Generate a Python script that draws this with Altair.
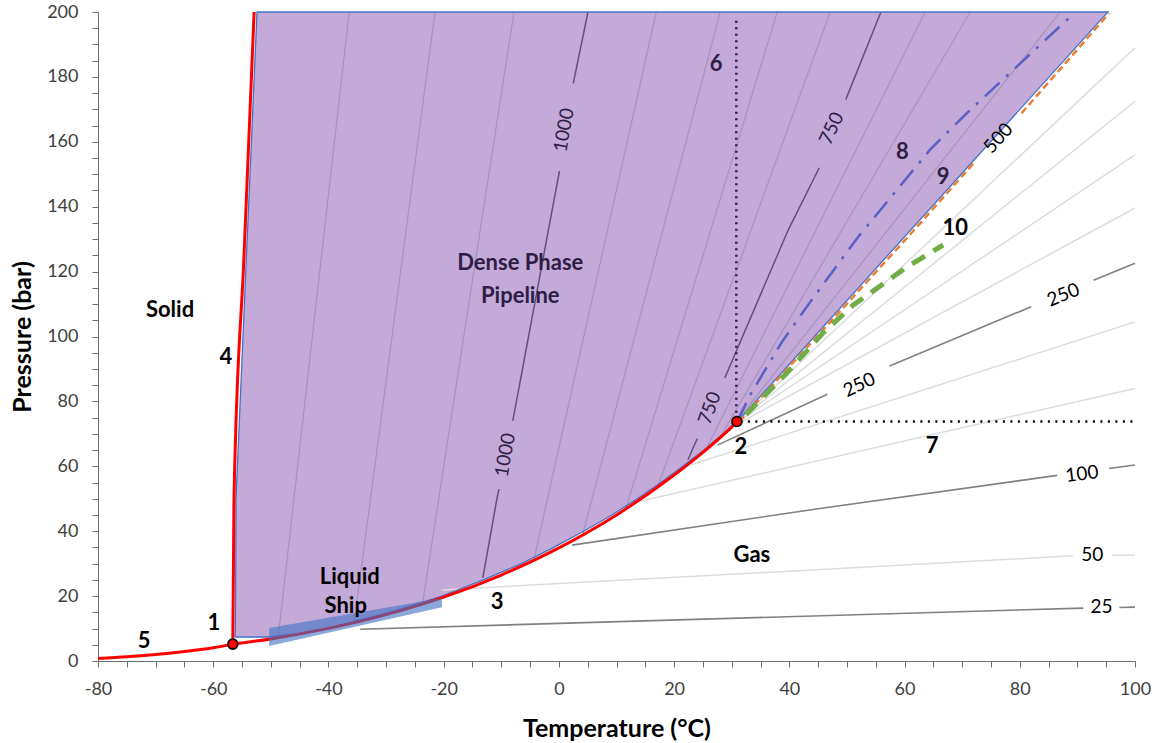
import altair as alt
import pandas as pd

# ---------------- data (temperature °C, pressure bar) ----------------
sub_T = [-80, -75, -70, -65, -60, -56.6]
sub_P = [0.8, 1.3, 2.0, 2.9, 4.1, 5.2]
melt_T = [-56.6, -56.4, -54.65, -52.9]
melt_P = [5.2, 49.6, 125, 200]
vap_T = [-56.6, -50, -40, -30, -20, -10, 0, 10, 20, 25, 30, 31]
vap_P = [5.2, 6.8, 10.05, 14.3, 19.7, 26.5, 34.85, 45.0, 57.3, 64.3, 72.1, 73.8]

region_P = [7.4, 8.5, 10, 15, 20, 25, 30, 35, 40, 45, 50, 55, 60, 65, 70, 73.8, 200]
region_left = [-56.2, -56.18, -56.16, -56.14, -56.12, -56.1, -56.08, -56.07, -56.06, -56.05,
               -56.05, -55.93, -55.8, -55.68, -55.56, -55.47, -52.4]
region_right = [-50.2, -45.3, -40.5, -29.4, -20.3, -13.1, -6.5, -0.9, 4.3, 9.2,
                13.6, 17.7, 21.5, 25.2, 28.5, 31.0, 95.3]

ship_T = [-50.3, -20.3]
ship_top = [10.2, 19.4]
ship_bottom = [4.6, 16.6]

points_T = [-56.6, 30.9]
points_P = [5.2, 73.8]

# isochores (kg/m3); None marks a break for a label
iso_lines = [
    # liquid region, light
    ("1150", "liq_light", [-48.7, -36.4], [7.6, 200]),
    ("1100", "liq_light", [-35.5, -21.5], [12.5, 200]),
    ("1050", "liq_light", [-23.6, -7.8], [18.5, 200]),
    ("950", "liq_light", [-4.3, 16.9], [31.5, 200]),
    ("900", "liq_light", [4.2, 28.0], [39.5, 200]),
    ("850", "liq_light", [11.6, 37.9], [46.8, 200]),
    ("800", "liq_light", [17.2, 47.1], [54.0, 200]),
    ("700", "liq_light", [25.8, 63.6], [66.2, 200]),
    ("650", "liq_light", [28.4, 71.4], [70.3, 200]),
    ("550", "liq_light", [30.6, 87.0], [73.3, 200]),
    # liquid region, labelled
    ("1000", "liq_dark", [5.05, 2.5, None, 0.1, -8.0, None, -10.4, -10.8, -13.2],
     [200, 178, None, 151, 74, None, 53, 49.6, 25.6]),
    ("750", "liq_dark", [55.9, 49.8, None, 45.2, 39.8, 28.8, None, 24.0, 22.4],
     [200, 173, None, 152, 132.8, 87.2, None, 68.5, 62]),
    # gas / supercritical, light
    ("50", "gas_light", [-20.3, 89.2, None, 96.0, 100], [21.9, 32.4, None, 32.6, 32.7]),
    ("150", "gas_light", [13.5, 100], [49, 84]),
    ("200", "gas_light", [23.0, 100], [60.5, 104.5]),
    ("300", "gas_light", [29.8, 100], [71.9, 139.6]),
    ("350", "gas_light", [30.5, 100], [73.0, 156]),
    ("400", "gas_light", [30.9, 100], [73.6, 172.5]),
    ("450", "gas_light", [31.0, 100], [73.8, 189]),
    # gas, labelled dark
    ("25", "gas_dark", [-34.5, 91.0, None, 97.3, 100], [9.8, 16.3, None, 16.5, 16.6]),
    ("100", "gas_dark", [2.3, 45.3, 86.5, None, 95.5, 100], [35.7, 47.0, 57.2, None, 59.3, 60.4]),
    ("250", "gas_dark", [27.6, 46.6, None, 57.4, 82.0, None, 92.8, 100],
     [66.6, 82.2, None, 90.9, 109.2, None, 117.3, 122.6]),
    # special lines
    ("9", "orange", [31.3, 60.6, 72.3, None, 80.3, 95.5], [73.8, 130.7, 154.0, None, 168.8, 199.6]),
    ("8", "dashdot", [31.0, 33.2, 38.7, 43.6, 52.0, 64.4, 70.5, 89.1],
     [74.0, 82.0, 98.3, 110.6, 130.8, 157.5, 168.3, 199.1]),
    ("10", "green", [32.5, 39.6, 45.8, 51.1, 60.4, 66.7], [76.0, 88.8, 101.0, 109.7, 121.4, 128.2]),
    ("6", "dot6", [30.8, 30.8], [74.5, 198]),
    ("7", "dot7", [31.5, 100], [73.8, 73.8]),
]

label_text = ["Solid", "4", "1", "5", "Liquid", "Ship", "3", "Gas", "2", "7", "10",
              "Dense Phase", "Pipeline", "6", "8", "9",
              "1000", "1000", "750", "750", "500", "250", "250", "100", "50", "25"]
label_T = [-67.5, -57.8, -59.9, -72.0, -36.3, -37.0, -10.7, 33.5, 31.6, 64.8, 68.8,
           -6.7, -6.7, 27.3, 59.6, 66.7,
           0.9, -9.3, 47.35, 26.2, 76.3, 52.15, 87.56, 90.8, 92.6, 94.2]
label_P = [108.2, 93.7, 11.7, 6.2, 25.9, 17.0, 18.2, 32.7, 65.9, 66.3, 133.4,
           122.6, 112.5, 184.0, 156.9, 149.2,
           163.6, 63.5, 164.1, 77.9, 161.1, 85.05, 112.8, 57.6, 32.7, 16.6]
label_angle = [0] * 16 + [280, 280, 295, 290, 312, 335, 338, 353, 0, 0]
label_bold = [True] * 16 + [False] * 10
PURPLE_TXT = "#2E1D45"
label_color = (["#000000"] * 11 + [PURPLE_TXT] * 5 + [PURPLE_TXT] * 4 + ["#000000"] * 6)
label_size = [22] * 16 + [19] * 10

# ---------------- tables ----------------
rows = []
for name, style, Ts, Ps in iso_lines:
    seg = 0
    i = 0
    for t, p in zip(Ts, Ps):
        if t is None:
            seg += 1
            continue
        rows.append({"line": name, "seg": f"{name}_{seg}", "style": style, "i": i, "T": t, "P": p})
        i += 1
iso_df = pd.DataFrame(rows)

curve_rows = []
for name, Ts, Ps in [("sub", sub_T, sub_P), ("melt", melt_T, melt_P), ("vap", vap_T, vap_P)]:
    for i, (t, p) in enumerate(zip(Ts, Ps)):
        curve_rows.append({"seg": name, "i": i, "T": t, "P": p})
curve_df = pd.DataFrame(curve_rows)

region_df = pd.DataFrame({"P": region_P, "left": region_left, "right": region_right})

outline = [(region_left[0], region_P[0])]
outline += list(zip(region_right, region_P))
outline += list(zip(region_left[::-1], region_P[::-1]))
outline_df = pd.DataFrame({"i": range(len(outline)),
                           "T": [o[0] for o in outline], "P": [o[1] for o in outline]})

ship_df = pd.DataFrame({"T": ship_T, "P": ship_top, "P2": ship_bottom})
pts_df = pd.DataFrame({"T": points_T, "P": points_P})
lab_df = pd.DataFrame({"label": label_text, "T": label_T, "P": label_P, "angle": label_angle,
                       "bold": label_bold, "color": label_color, "size": label_size})

# ---------------- encodings ----------------
FONT = "Lato"
xscale = alt.Scale(domain=[-80, 100], nice=False, zero=False)
yscale = alt.Scale(domain=[0, 200], nice=False, zero=False)
xaxis = alt.Axis(title="Temperature (°C)", values=list(range(-80, 101, 5)),
                 labelExpr="datum.value % 20 == 0 ? '' + datum.value : ''",
                 grid=False, tickSize=6, tickColor="#6E6E6E", domainColor="#6E6E6E",
                 labelColor="#404040", labelFont=FONT, labelFontSize=18, labelPadding=13,
                 labelOverlap=False, labelFlush=False,
                 titleFont=FONT, titleFontSize=25, titleFontWeight="bold",
                 titleColor="#000000", titleBaseline="middle", titleY=67)
yaxis = alt.Axis(title="Pressure (bar)", values=list(range(0, 201, 5)),
                 labelExpr="datum.value % 20 == 0 ? '' + datum.value : ''",
                 grid=False, tickSize=6, tickColor="#6E6E6E", domainColor="#6E6E6E",
                 labelColor="#404040", labelFont=FONT, labelFontSize=18, labelPadding=14,
                 labelOverlap=False, labelFlush=False,
                 titleFont=FONT, titleFontSize=25, titleFontWeight="bold",
                 titleColor="#000000", titleBaseline="middle", titleX=-76)


def X(field="T"):
    return alt.X(f"{field}:Q", scale=xscale, axis=xaxis)


def Y(field="P"):
    return alt.Y(f"{field}:Q", scale=yscale, axis=yaxis)


region = alt.Chart(region_df).mark_area(orient="horizontal", color="#C4AAD8", opacity=1).encode(
    y=Y("P"), x=X("left"), x2="right:Q")


def iso_layer(style, **props):
    return alt.Chart(iso_df).transform_filter(alt.datum.style == style).mark_line(**props).encode(
        x=X(), y=Y(), detail="seg:N", order="i:Q")


liq_light = iso_layer("liq_light", color="#A892C0", strokeWidth=1.2)
liq_dark = iso_layer("liq_dark", color="#62507A", strokeWidth=1.5)
gas_light = iso_layer("gas_light", color="#DCDCDC", strokeWidth=1.5)
gas_dark = iso_layer("gas_dark", color="#808080", strokeWidth=1.6)

outline_layer = alt.Chart(outline_df).mark_line(color="#4472C4", strokeWidth=1.3).encode(
    x=X(), y=Y(), order="i:Q")

dot6 = iso_layer("dot6", color="#2E1D45", strokeWidth=2.5, strokeDash=[2, 4.5])
dot7 = iso_layer("dot7", color="#000000", strokeWidth=2.5, strokeDash=[2, 5.5])
orange = iso_layer("orange", color="#ED7D31", strokeWidth=2.5, strokeDash=[7, 4])
dashdot = iso_layer("dashdot", color="#5A5FC6", strokeWidth=2.5, strokeDash=[20, 9, 3, 9])
green = iso_layer("green", color="#70AD47", strokeWidth=5, strokeDash=[15, 10])

red = alt.Chart(curve_df).mark_line(color="#FF0000", strokeWidth=3, interpolate="monotone").encode(
    x=X(), y=Y(), detail="seg:N", order="i:Q")

ship = alt.Chart(ship_df).mark_area(orient="vertical", color="#4472C4", opacity=0.62).encode(
    x=X(), y=Y("P"), y2="P2:Q")

pts = alt.Chart(pts_df).mark_point(filled=True, shape="circle", size=100, fill="#FF0000",
                                    stroke="#000000", strokeWidth=1.6, opacity=1).encode(x=X(), y=Y())


def text_layer(bold):
    return alt.Chart(lab_df).transform_filter(alt.datum.bold == bold).mark_text(
        font=FONT, fontWeight="bold" if bold else "normal", align="center", baseline="middle").encode(
        x=X(), y=Y(), text="label:N",
        angle=alt.Angle("angle:Q", scale=None),
        size=alt.Size("size:Q", scale=None),
        color=alt.Color("color:N", scale=None))


chart = alt.layer(
    region, liq_light, liq_dark, gas_light, gas_dark, outline_layer,
    dot6, dot7, orange, dashdot, green, red, ship, pts,
    text_layer(True), text_layer(False)
).properties(
    width=1037, height=649,
    autosize=alt.AutoSizeParams(type="none"),
    padding={"left": 98, "top": 12, "right": 18, "bottom": 82},
    background="white"
).configure_view(stroke=None)

chart.save("out.html", embed_options={"renderer": "svg", "actions": False})
